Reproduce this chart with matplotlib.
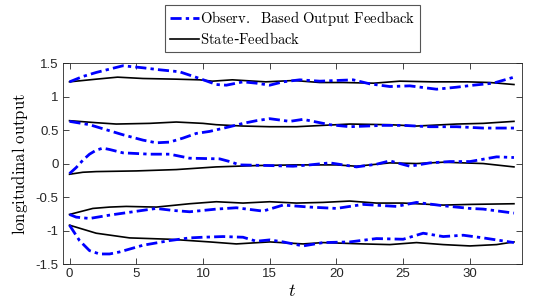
#!/usr/bin/env python3
# longitudinal_output.py

import matplotlib
matplotlib.use("Agg")
import matplotlib.pyplot as plt
from matplotlib.ticker import FixedLocator, FixedFormatter

# observer based output feedback (blue, dash-dot) and state feedback (black)
top_ob_t = [0, 1, 2, 3, 4, 5.5, 6.75, 8.25, 9.75, 11, 11.75, 13, 14, 15, 16, 17.25,
            18.75, 21.25, 22.5, 24, 25.5, 27.5, 29, 30.25, 31.75, 33.3]
top_ob_v = [1.22, 1.30, 1.36, 1.41, 1.46, 1.43, 1.40, 1.37, 1.27, 1.18, 1.17, 1.22,
            1.20, 1.17, 1.22, 1.25, 1.23, 1.25, 1.19, 1.15, 1.16, 1.11, 1.14, 1.17,
            1.20, 1.29]
top_sf_t = [0, 2, 3.6, 5.5, 8, 9.75, 10.7, 12.2, 14.7, 16.8, 18.75, 20.5, 22.8,
            24.75, 27.2, 29.8, 31.5, 33.3]
top_sf_v = [1.22, 1.26, 1.29, 1.27, 1.26, 1.25, 1.23, 1.25, 1.22, 1.24, 1.21, 1.21,
            1.20, 1.23, 1.22, 1.22, 1.21, 1.18]

mid_ob_t = [0, 1.5, 2.5, 4, 5.5, 6.5, 7.5, 8.5, 9.5, 10.5, 12, 13, 14, 15, 16.5,
            17.5, 18.5, 19.5, 21, 23.5, 25, 27, 29, 31, 33.3]
mid_ob_v = [0.63, 0.58, 0.52, 0.43, 0.35, 0.31, 0.32, 0.38, 0.45, 0.48, 0.55, 0.60,
            0.64, 0.67, 0.63, 0.66, 0.62, 0.58, 0.55, 0.57, 0.57, 0.55, 0.55, 0.53, 0.53]
mid_sf_t = [0, 2, 3.5, 6, 8, 10, 11, 13, 15, 17, 18, 21, 24, 26, 29, 31, 33.3]
mid_sf_v = [0.64, 0.61, 0.59, 0.60, 0.62, 0.60, 0.58, 0.56, 0.55, 0.55, 0.56, 0.59,
            0.58, 0.56, 0.59, 0.60, 0.63]

zero_ob_t = [0, 0.5, 1, 1.5, 2, 2.5, 3, 4, 6, 7.5, 9, 11.25, 12, 12.75, 15, 16.75,
             18, 19.5, 21.5, 23, 24, 25.5, 27, 28.5, 30, 32, 33.3]
zero_ob_v = [-0.15, -0.06, 0.05, 0.14, 0.20, 0.23, 0.21, 0.16, 0.14, 0.14, 0.08,
             0.07, 0.03, -0.02, -0.03, -0.04, -0.02, 0.01, -0.05, -0.01, 0.04, -0.04,
             0.01, 0.03, 0.03, 0.10, 0.09]
zero_sf_t = [0, 1, 2, 5, 8, 11, 14, 17, 20, 21.5, 24, 26, 28, 31, 33.3]
zero_sf_v = [-0.16, -0.13, -0.12, -0.11, -0.09, -0.05, -0.03, -0.02, -0.02, -0.04,
             0.01, 0.00, 0.02, 0.00, -0.05]

low_ob_t = [0, 0.5, 1.5, 3, 4.75, 6.5, 7.75, 9, 10, 11, 12.5, 14.5, 16, 18, 20, 22,
            24.5, 26, 28, 30, 31, 33.3]
low_ob_v = [-0.76, -0.80, -0.82, -0.77, -0.72, -0.67, -0.70, -0.72, -0.70, -0.68,
            -0.66, -0.71, -0.62, -0.65, -0.67, -0.61, -0.64, -0.58, -0.63, -0.67,
            -0.68, -0.74]
low_sf_t = [0, 1.75, 3, 4.25, 6.5, 9, 11, 13, 15, 17, 19, 21, 23, 25, 28, 30, 33.3]
low_sf_v = [-0.76, -0.67, -0.65, -0.64, -0.65, -0.60, -0.57, -0.59, -0.57, -0.59,
            -0.58, -0.56, -0.59, -0.59, -0.62, -0.61, -0.60]

bot_ob_t = [0, 0.75, 1.5, 2.25, 3, 3.75, 5.5, 7.5, 9, 10, 11.5, 13, 14, 15, 16, 17.5,
            19, 21, 23, 25, 26.5, 28, 29.5, 31, 33.3]
bot_ob_v = [-0.92, -1.15, -1.30, -1.35, -1.35, -1.32, -1.22, -1.15, -1.11, -1.10,
            -1.09, -1.10, -1.16, -1.14, -1.17, -1.23, -1.18, -1.17, -1.12, -1.13,
            -1.04, -1.09, -1.07, -1.11, -1.18]
bot_sf_t = [0, 2, 4.5, 7.5, 10.5, 12.5, 15, 17.5, 19, 22, 24, 26, 28, 30, 32, 33.3]
bot_sf_v = [-0.92, -1.04, -1.11, -1.13, -1.17, -1.20, -1.17, -1.20, -1.18, -1.20,
            -1.21, -1.18, -1.21, -1.23, -1.21, -1.17]

x_ticks = [0, 5, 10, 15, 20, 25, 30]
y_ticks = [-1.5, -1, -0.5, 0, 0.5, 1, 1.5]
y_tick_labels = ["-1.5", "-1", "-0.5", "0", "0.5", "1", "1.5"]

labels = [r"$\mathrm{Observ.\ \ Based\ Output\ Feedback}$",
          r"$\mathrm{State}$-$\mathrm{Feedback}$"]


def plot(ax):
    observer = [(top_ob_t, top_ob_v), (mid_ob_t, mid_ob_v), (zero_ob_t, zero_ob_v),
                (low_ob_t, low_ob_v), (bot_ob_t, bot_ob_v)]
    state = [(top_sf_t, top_sf_v), (mid_sf_t, mid_sf_v), (zero_sf_t, zero_sf_v),
             (low_sf_t, low_sf_v), (bot_sf_t, bot_sf_v)]

    ob_line = sf_line = None
    for t, v in observer:
        (ob_line,) = ax.plot(t, v, color="#0000ff", linestyle="-.", linewidth=2,
                             dashes=(4, 1.5, 1.2, 1.5), zorder=3)
    for t, v in state:
        (sf_line,) = ax.plot(t, v, color="black", linewidth=1.2, zorder=2)

    ax.set_xlim(-0.5, 33.9)
    ax.set_ylim(-1.5, 1.5)
    ax.xaxis.set_major_locator(FixedLocator(x_ticks))
    ax.yaxis.set_major_locator(FixedLocator(y_ticks))
    ax.yaxis.set_major_formatter(FixedFormatter(y_tick_labels))
    ax.tick_params(direction="in", top=True, right=True, length=4, width=0.6,
                   color="#262626", labelcolor="#262626", labelsize=9.5, pad=3)
    for lab in ax.get_xticklabels() + ax.get_yticklabels():
        lab.set_family("Liberation Sans")
    for sp in ax.spines.values():
        sp.set_color("#262626")
        sp.set_linewidth(0.6)

    ax.set_xlabel("$t$", fontsize=13, labelpad=1)
    ax.set_ylabel(r"$\mathrm{longitudinal\ output}$", fontsize=12, labelpad=4)
    return ob_line, sf_line


def main():
    plt.rcParams["mathtext.fontset"] = "cm"
    fig = plt.figure(figsize=(5.37, 2.99), dpi=100)
    ax = fig.add_axes([0.117, 0.117, 0.855, 0.672])
    ob_line, sf_line = plot(ax)
    leg = fig.legend(
        [ob_line, sf_line], labels,
        loc="upper center", bbox_to_anchor=(0.545, 0.983), fontsize=10.5,
        fancybox=False, edgecolor="#555555", framealpha=1, handlelength=2.0,
        handletextpad=0.1, borderpad=0.3, labelspacing=0.2, borderaxespad=0,
    )
    leg.get_frame().set_linewidth(0.8)
    fig.savefig("out.png", dpi=100)


if __name__ == "__main__":
    main()
